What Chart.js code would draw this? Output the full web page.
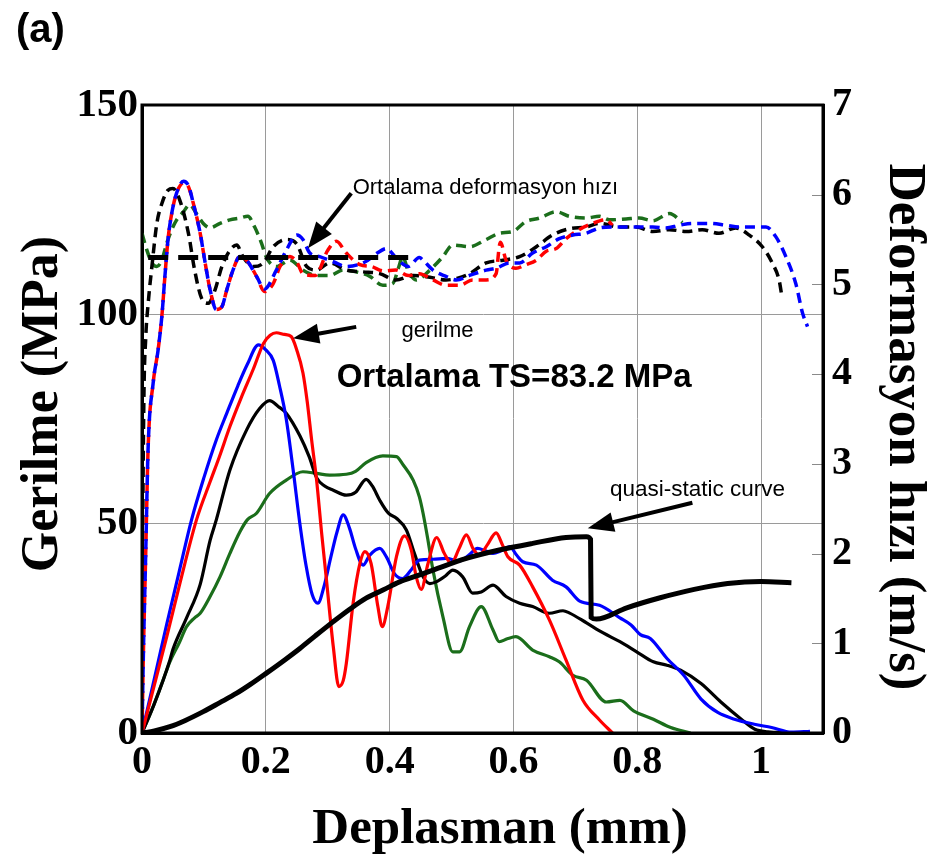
<!DOCTYPE html>
<html>
<head>
<meta charset="utf-8">
<script src="https://cdn.jsdelivr.net/npm/chart.js@4/dist/chart.umd.min.js"></script>
<style>
  html, body { margin: 0; padding: 0; background: #fff; }
  canvas { display: block; }
</style>
</head>
<body>
<canvas id="c" width="930" height="858"></canvas>
<script>
// ---- Stress (MPa) vs displacement (mm), left axis ----
const stressBlue = [[0,0],[0.02,13],[0.04,26],[0.06,38.5],[0.08,50.9],[0.1,61],[0.12,70],[0.137,76.4],[0.155,83],[0.17,88],[0.188,92.7],[0.2,91.5],[0.212,89],[0.222,83],[0.233,75],[0.244,63],[0.255,50],[0.265,40],[0.275,33],[0.284,31],[0.294,35],[0.305,42],[0.315,48],[0.325,52.1],[0.335,49],[0.345,44],[0.357,40.1],[0.368,42.5],[0.384,44.1],[0.395,42],[0.408,38],[0.421,36.9],[0.435,39],[0.448,41.3],[0.47,41.5],[0.491,41.7],[0.513,41.1],[0.528,42.5],[0.542,44.1],[0.555,43.5],[0.567,42.9],[0.58,43.5],[0.594,44.5],[0.605,42.5],[0.615,40.9],[0.637,40.1],[0.663,36.5],[0.685,34.9],[0.707,31.5],[0.739,30.5],[0.772,27.5],[0.79,25.8],[0.805,23.5],[0.821,22.6],[0.848,17.8],[0.875,13.8],[0.903,8.1],[0.93,4.9],[0.957,3.3],[0.989,2.1],[1.017,1.3],[1.049,0.2],[1.079,0.4]];
const stressRed = [[0,0],[0.02,11.5],[0.04,23],[0.06,35],[0.088,50.9],[0.11,60],[0.125,66],[0.142,73.2],[0.16,80],[0.18,87],[0.196,93],[0.207,95],[0.217,95.6],[0.23,95.2],[0.241,94.7],[0.25,91.5],[0.26,86],[0.267,79],[0.274,70],[0.282,60.4],[0.29,48],[0.298,36.5],[0.309,20.6],[0.318,11.1],[0.325,12.5],[0.33,16.6],[0.341,31],[0.352,40.5],[0.36,43.3],[0.37,40.5],[0.381,30.2],[0.388,25.4],[0.397,30.2],[0.411,42.1],[0.424,47.1],[0.435,43.7],[0.443,37.3],[0.451,34.3],[0.462,40.5],[0.476,46.7],[0.488,43],[0.4995,40.5],[0.512,44],[0.524,47.3],[0.535,44],[0.545,42.5],[0.558,45],[0.572,47.8],[0.582,45],[0.591,42.1],[0.61,40.1],[0.631,34.9],[0.658,27],[0.685,17.4],[0.712,7.9],[0.739,3.1],[0.76,0]];
const stressBlack = [[0,0],[0.02,7],[0.045,17.4],[0.05,20],[0.072,27.5],[0.094,35.5],[0.11,46],[0.12,50.9],[0.142,62.8],[0.169,72.4],[0.19,77.5],[0.206,79.4],[0.22,78],[0.233,76.4],[0.255,71],[0.27,66],[0.282,61],[0.295,59],[0.309,58],[0.33,56.8],[0.345,57.5],[0.362,60.6],[0.372,59],[0.384,55.6],[0.398,52.5],[0.411,51.3],[0.427,48.5],[0.44,42.9],[0.454,37.3],[0.465,35.7],[0.475,36.1],[0.49,37.5],[0.502,38.9],[0.518,37.3],[0.534,33.4],[0.548,33.7],[0.567,35.3],[0.588,32.6],[0.61,31],[0.631,30.2],[0.658,28.6],[0.68,29.2],[0.69,28.7],[0.718,26.3],[0.745,23.9],[0.772,21.8],[0.799,19.4],[0.826,17],[0.848,16.2],[0.87,15],[0.903,11.8],[0.935,7.4],[0.968,3.3],[0.99,0.9],[1.011,0.3],[1.044,0.1]];
const stressGreen = [[0,0],[0.018,6.3],[0.035,13],[0.045,17],[0.06,21.5],[0.072,25.4],[0.085,27.5],[0.094,28.6],[0.11,32.6],[0.126,37.3],[0.142,42.9],[0.158,48],[0.17,50.9],[0.185,52.5],[0.206,57.2],[0.233,60.4],[0.26,62.4],[0.282,62],[0.303,61.6],[0.33,61.8],[0.345,62.5],[0.362,64.6],[0.389,66.2],[0.411,66],[0.422,64],[0.438,60.4],[0.448,56.4],[0.454,52.5],[0.462,46],[0.47,38.9],[0.486,27.8],[0.502,19.4],[0.513,19.4],[0.529,25.4],[0.548,30.2],[0.567,24.6],[0.577,21.8],[0.59,22.5],[0.604,23],[0.631,19.8],[0.658,18.2],[0.674,17],[0.696,13.8],[0.718,12.6],[0.75,7.4],[0.772,7.8],[0.794,5.3],[0.826,3.3],[0.854,1.3],[0.886,0]];
const stressQuasiStatic = [[0,0],[0.02,0.5],[0.045,1.5],[0.07,3],[0.099,5.1],[0.125,7.2],[0.153,9.5],[0.175,11.6],[0.201,14.3],[0.23,17.4],[0.255,20.2],[0.28,23.2],[0.309,26.6],[0.335,29.5],[0.362,32.2],[0.39,34.2],[0.416,36.1],[0.445,37.6],[0.47,38.9],[0.524,41.7],[0.577,43.7],[0.631,45.3],[0.685,46.7],[0.718,46.9],[0.7245,46.3],[0.7255,27.6],[0.734,27.2],[0.783,29.9],[0.837,32.3],[0.892,34.3],[0.946,35.7],[1.0,36.2],[1.049,35.9]];

// ---- Deformation rate (m/s) vs displacement (mm), right axis ----
const rateBlack = [[0,0],[0.001,2],[0.003,3.7],[0.006,4.4],[0.01,4.79],[0.016,5.2],[0.024,5.68],[0.032,5.9],[0.042,6.05],[0.05,6.07],[0.061,5.94],[0.075,5.57],[0.085,5.16],[0.096,4.85],[0.107,4.79],[0.118,4.94],[0.129,5.2],[0.142,5.38],[0.153,5.44],[0.163,5.31],[0.18,5.2],[0.196,5.24],[0.212,5.42],[0.233,5.5],[0.25,5.45],[0.266,5.2],[0.282,5.16],[0.303,5.24],[0.33,5.16],[0.357,5.14],[0.384,5.12],[0.41,5.05],[0.438,5.1],[0.465,5.08],[0.491,5.05],[0.51,5.07],[0.529,5.12],[0.556,5.24],[0.583,5.27],[0.61,5.31],[0.637,5.42],[0.663,5.55],[0.69,5.62],[0.717,5.64],[0.739,5.68],[0.771,5.64],[0.798,5.64],[0.825,5.59],[0.852,5.61],[0.879,5.59],[0.905,5.61],[0.932,5.57],[0.959,5.63],[0.981,5.55],[1.002,5.42],[1.018,5.24],[1.029,5.05],[1.034,4.85]];
const rateRed = [[0,0],[0.002,0.8],[0.006,2],[0.01,3.2],[0.018,3.9],[0.026,4.27],[0.032,4.64],[0.037,5.09],[0.042,5.5],[0.048,5.79],[0.056,6.02],[0.067,6.13],[0.075,6.09],[0.083,5.9],[0.094,5.57],[0.102,5.24],[0.11,4.94],[0.12,4.72],[0.129,4.75],[0.137,4.94],[0.147,5.16],[0.158,5.31],[0.169,5.27],[0.185,5.09],[0.198,4.92],[0.212,5.01],[0.223,5.2],[0.239,5.31],[0.25,5.25],[0.26,5.12],[0.28,5.1],[0.3,5.38],[0.314,5.48],[0.33,5.35],[0.352,5.22],[0.37,5.2],[0.39,5.15],[0.41,5.16],[0.43,5.1],[0.448,5.12],[0.47,5.05],[0.491,4.99],[0.513,4.99],[0.534,5.05],[0.556,5.05],[0.572,5.12],[0.577,5.42],[0.579,5.47],[0.588,5.27],[0.604,5.18],[0.62,5.22],[0.637,5.27],[0.653,5.37],[0.669,5.4],[0.685,5.51],[0.706,5.61],[0.728,5.68],[0.75,5.72],[0.76,5.66]];
const rateBlue = [[0,0],[0.002,0.8],[0.006,2],[0.01,3.2],[0.018,3.9],[0.026,4.27],[0.032,4.64],[0.037,5.09],[0.042,5.5],[0.048,5.79],[0.056,6.02],[0.067,6.15],[0.075,6.1],[0.083,5.9],[0.094,5.57],[0.102,5.24],[0.11,4.94],[0.12,4.72],[0.129,4.75],[0.137,4.94],[0.147,5.16],[0.158,5.31],[0.169,5.27],[0.185,5.09],[0.198,4.95],[0.217,5.16],[0.233,5.38],[0.25,5.55],[0.26,5.5],[0.271,5.35],[0.287,5.31],[0.31,5.25],[0.33,5.2],[0.36,5.25],[0.38,5.35],[0.395,5.4],[0.41,5.3],[0.43,5.2],[0.448,5.3],[0.454,5.27],[0.47,5.16],[0.491,5.09],[0.508,5.05],[0.529,5.1],[0.556,5.16],[0.572,5.18],[0.594,5.24],[0.61,5.24],[0.631,5.35],[0.653,5.42],[0.674,5.51],[0.696,5.55],[0.717,5.57],[0.739,5.63],[0.76,5.64],[0.782,5.64],[0.803,5.64],[0.825,5.64],[0.846,5.63],[0.868,5.66],[0.889,5.68],[0.916,5.68],[0.943,5.66],[0.965,5.64],[0.986,5.64],[1.008,5.64],[1.024,5.53],[1.04,5.31],[1.056,5.01],[1.067,4.68],[1.075,4.53]];
const rateGreen = [[0,5.57],[0.008,5.38],[0.016,5.24],[0.024,5.2],[0.032,5.27],[0.04,5.46],[0.048,5.61],[0.056,5.72],[0.067,5.81],[0.077,5.89],[0.088,5.79],[0.099,5.68],[0.11,5.63],[0.126,5.68],[0.142,5.72],[0.158,5.74],[0.171,5.76],[0.182,5.64],[0.193,5.46],[0.201,5.3],[0.217,5.2],[0.239,5.27],[0.26,5.16],[0.282,5.1],[0.303,5.1],[0.325,5.16],[0.346,5.14],[0.368,5.09],[0.389,4.99],[0.405,5.01],[0.415,5.2],[0.421,5.31],[0.43,5.15],[0.443,5.05],[0.465,5.16],[0.486,5.31],[0.502,5.44],[0.529,5.42],[0.556,5.5],[0.577,5.57],[0.599,5.59],[0.62,5.7],[0.642,5.74],[0.669,5.81],[0.69,5.76],[0.717,5.74],[0.739,5.76],[0.755,5.72],[0.782,5.73],[0.803,5.74],[0.825,5.71],[0.852,5.79],[0.873,5.69]];
// average deformation rate over the early part of the test
const rateAverage = [[0.01,5.3],[0.43,5.3]];

// ---- Axis ticks ----
const xTickValues = [0, 0.2, 0.4, 0.6, 0.8, 1];
const xTickLabels = ['0', '0.2', '0.4', '0.6', '0.8', '1'];
const stressTicks = [0, 50, 100, 150];
const rateTicks = [0, 1, 2, 3, 4, 5, 6, 7];

// ---- Annotation texts and arrows (data units: displacement, stress) ----
const notes = [
  { text: 'Ortalama deformasyon hızı', x: 0.3403, y: 130.2, font: '22px "Liberation Sans", Arial, sans-serif' },
  { text: 'gerilme', x: 0.419, y: 96.0, font: '22px "Liberation Sans", Arial, sans-serif' },
  { text: 'Ortalama TS=83.2 MPa', x: 0.3145, y: 84.9, font: 'bold 33px "Liberation Sans", Arial, sans-serif' },
  { text: 'quasi-static curve', x: 0.756, y: 58.2, font: '22.5px "Liberation Sans", Arial, sans-serif' }
];
const arrows = [
  { from: [0.338, 128.9], to: [0.268, 115.8] },
  { from: [0.346, 97.0], to: [0.244, 94.3] },
  { from: [0.889, 55.0], to: [0.72, 48.9] }
];

const SERIF = '"Liberation Serif", "Times New Roman", serif';
const SANS = '"Liberation Sans", Arial, sans-serif';

const toXY = pts => pts.map(([x, y]) => ({ x, y }));

const solid = (label, pts, color, width) => ({
  label, data: toXY(pts), yAxisID: 'y', showLine: true,
  borderColor: color, backgroundColor: color, borderWidth: width || 3.2,
  pointRadius: 0, fill: false, cubicInterpolationMode: 'monotone'
});
const dashed = (label, pts, color, offset) => ({
  label, data: toXY(pts), yAxisID: 'y1', showLine: true,
  borderColor: color, backgroundColor: color, borderWidth: 3.5,
  borderDash: [10, 6], borderDashOffset: offset || 0,
  pointRadius: 0, fill: false, cubicInterpolationMode: 'monotone'
});

const GREEN = '#1b6e1b';

// Axis titles, panel letter, frame, inner right ticks, arrows and notes
const decor = {
  id: 'decor',
  afterDraw(chart) {
    const { ctx, chartArea: a, scales: { x, y, y1 } } = chart;
    ctx.save();

    // short inner tick marks on the right axis
    ctx.strokeStyle = '#8a8a8a';
    ctx.lineWidth = 1;
    rateTicks.slice(1, -1).forEach(v => {
      const py = Math.round(y1.getPixelForValue(v)) + 0.5;
      ctx.beginPath();
      ctx.moveTo(a.right - 11, py);
      ctx.lineTo(a.right, py);
      ctx.stroke();
    });

    // plot frame
    ctx.strokeStyle = '#000';
    ctx.lineWidth = 3;
    ctx.strokeRect(a.left, a.top, a.right - a.left, a.bottom - a.top);

    // arrows
    ctx.fillStyle = '#000';
    arrows.forEach(ar => {
      const x0 = x.getPixelForValue(ar.from[0]), y0 = y.getPixelForValue(ar.from[1]);
      const x1 = x.getPixelForValue(ar.to[0]), y1p = y.getPixelForValue(ar.to[1]);
      const ang = Math.atan2(y1p - y0, x1 - x0);
      const headLen = 26, headHalf = 10;
      const bx = x1 - headLen * Math.cos(ang), by = y1p - headLen * Math.sin(ang);
      ctx.lineWidth = 4;
      ctx.lineCap = 'butt';
      ctx.beginPath();
      ctx.moveTo(x0, y0);
      ctx.lineTo(bx + 2 * Math.cos(ang), by + 2 * Math.sin(ang));
      ctx.stroke();
      ctx.beginPath();
      ctx.moveTo(x1, y1p);
      ctx.lineTo(bx + headHalf * Math.sin(ang), by - headHalf * Math.cos(ang));
      ctx.lineTo(bx - headHalf * Math.sin(ang), by + headHalf * Math.cos(ang));
      ctx.closePath();
      ctx.fill();
    });

    // notes
    ctx.textAlign = 'left';
    ctx.textBaseline = 'middle';
    notes.forEach(n => {
      ctx.font = n.font;
      ctx.fillText(n.text, x.getPixelForValue(n.x), y.getPixelForValue(n.y));
    });

    // axis titles
    ctx.font = 'bold 51px ' + SERIF;
    ctx.textAlign = 'center';
    ctx.textBaseline = 'alphabetic';
    ctx.fillText('Deplasman (mm)', 500, 843);

    ctx.save();
    ctx.font = 'bold 52px ' + SERIF;
    ctx.translate(57, 404);
    ctx.rotate(-Math.PI / 2);
    ctx.fillText('Gerilme (MPa)', 0, 0);
    ctx.restore();

    ctx.save();
    ctx.font = 'bold 53px ' + SERIF;
    ctx.translate(890, 427);
    ctx.rotate(Math.PI / 2);
    ctx.fillText('Deformasyon hızı (m/s)', 0, 0);
    ctx.restore();

    // panel letter
    ctx.font = 'bold 40px ' + SANS;
    ctx.textAlign = 'left';
    ctx.textBaseline = 'middle';
    ctx.fillText('(a)', 16, 31);

    ctx.restore();
  }
};

new Chart(document.getElementById('c'), {
  type: 'scatter',
  data: {
    datasets: [
      solid('quasi-static curve', stressQuasiStatic, '#000', 5),
      {
        label: 'Ortalama deformasyon hızı', data: toXY(rateAverage), yAxisID: 'y1', showLine: true,
        borderColor: '#000', borderWidth: 5, borderDash: [20, 10], pointRadius: 0, fill: false
      },
      solid('gerilme 1', stressRed, '#ff0000'),
      solid('gerilme 2', stressBlue, '#0000ff'),
      solid('gerilme 3', stressBlack, '#000000'),
      solid('gerilme 4', stressGreen, GREEN),
      dashed('hız 2', rateBlue, '#0000ff', 8),
      dashed('hız 1', rateRed, '#ff0000', 0),
      dashed('hız 3', rateBlack, '#000000', 0),
      dashed('hız 4', rateGreen, GREEN, 0)
    ]
  },
  options: {
    responsive: false,
    animation: false,
    devicePixelRatio: 1,
    events: [],
    layout: { padding: { top: 105, left: 0, right: 0, bottom: 0 } },
    plugins: { legend: { display: false }, tooltip: { enabled: false } },
    scales: {
      x: {
        type: 'linear', position: 'bottom', min: 0, max: 1.1,
        afterFit: s => { s.height = 125; },
        afterBuildTicks: s => { s.ticks = xTickValues.map(v => ({ value: v })); },
        ticks: {
          autoSkip: false, maxRotation: 0, padding: 10, color: '#000',
          font: { family: SERIF, size: 40, weight: 'bold', lineHeight: 1 },
          callback: v => xTickLabels[xTickValues.findIndex(t => Math.abs(t - v) < 1e-6)] ?? ''
        },
        grid: { color: '#9a9a9a', lineWidth: 1, drawTicks: false },
        border: { color: '#000', width: 3 }
      },
      y: {
        type: 'linear', position: 'left', min: 0, max: 150,
        afterFit: s => { s.width = 142; },
        afterBuildTicks: s => { s.ticks = stressTicks.map(v => ({ value: v })); },
        ticks: {
          padding: 4, color: '#000',
          font: { family: SERIF, size: 41, weight: 'bold', lineHeight: 1 }
        },
        grid: { color: '#9a9a9a', lineWidth: 1, drawTicks: false },
        border: { color: '#000', width: 3 }
      },
      y1: {
        type: 'linear', position: 'right', min: 0, max: 7,
        afterFit: s => { s.width = 107; },
        afterBuildTicks: s => { s.ticks = rateTicks.map(v => ({ value: v })); },
        ticks: {
          padding: 9, color: '#000',
          font: { family: SERIF, size: 40, weight: 'bold', lineHeight: 1 }
        },
        grid: { drawOnChartArea: false, drawTicks: false },
        border: { color: '#000', width: 3 }
      }
    }
  },
  plugins: [decor]
});
</script>
</body>
</html>
